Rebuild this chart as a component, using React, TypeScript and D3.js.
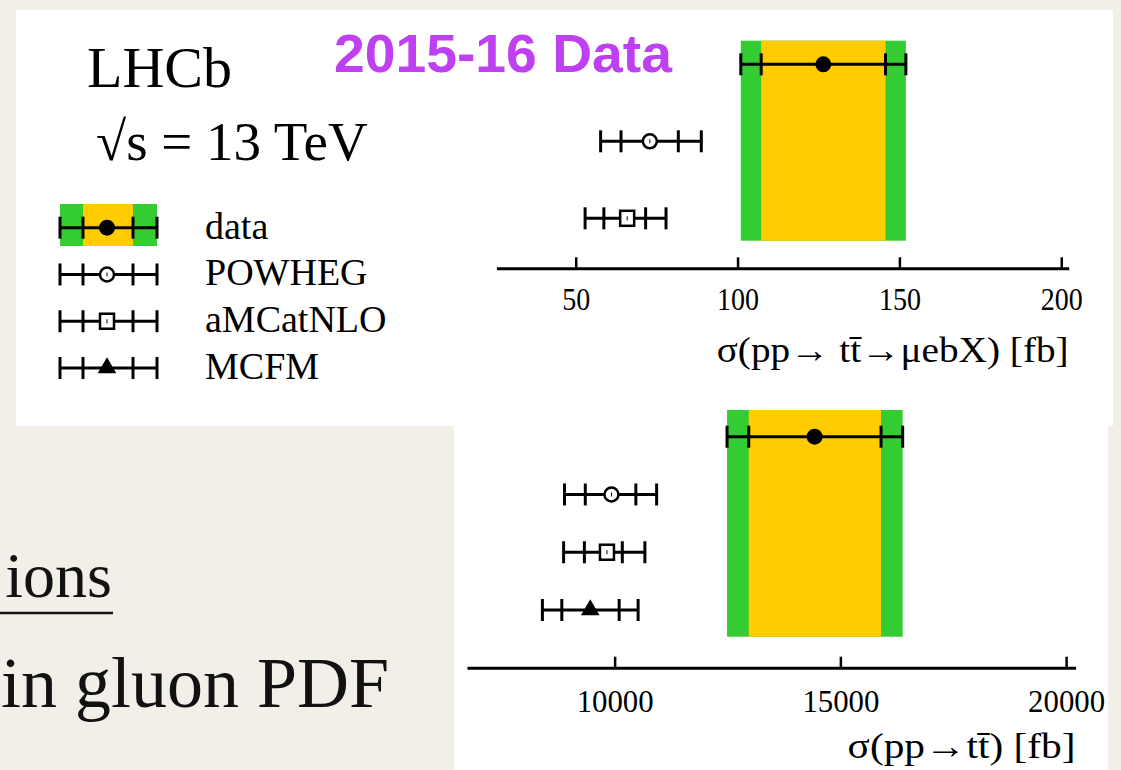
import React, { useRef, useEffect } from "react";
import * as d3 from "d3";

const W = 1121;
const H = 770;
const SERIF = "'Liberation Serif', 'Times New Roman', serif";
const SANS = "'Liberation Sans', Arial, sans-serif";
const GREEN = "#33cc33";
const YELLOW = "#ffcc00";

// series / marker types (same order in both panels)
const series = ["data", "POWHEG", "aMCatNLO", "MCFM"];
const markers = ["dot", "circle", "square", "triangle"];

// sigma(pp -> ttbar -> mu e b X) [fb]
const muebSeries = ["data", "POWHEG", "aMCatNLO"];
const muebCentral = [126.5, 72.9, 65.9];
const muebInnerLo = [107.3, 64.0, 58.7];
const muebInnerHi = [145.7, 81.7, 71.6];
const muebOuterLo = [101.0, 57.7, 52.9];
const muebOuterHi = [152.0, 88.8, 77.9];
const muebTicks = [50, 100, 150, 200];

// sigma(pp -> ttbar) [fb]
const ttSeries = ["data", "POWHEG", "aMCatNLO", "MCFM"];
const ttCentral = [14430, 9930, 9830, 9460];
const ttInnerLo = [12970, 9350, 9330, 8830];
const ttInnerHi = [15900, 10470, 10170, 10100];
const ttOuterLo = [12490, 8890, 8870, 8400];
const ttOuterHi = [16380, 10930, 10670, 10520];
const ttTicks = [10000, 15000, 20000];

function drawMarker(g, type, x, y) {
  if (type === "dot") {
    g.append("circle").attr("cx", x).attr("cy", y).attr("r", 8).attr("fill", "#000");
  } else if (type === "circle") {
    g.append("circle").attr("cx", x).attr("cy", y).attr("r", 7)
      .attr("fill", "#fff").attr("stroke", "#000").attr("stroke-width", 2.5);
    g.append("line").attr("x1", x).attr("x2", x).attr("y1", y - 2).attr("y2", y + 2)
      .attr("stroke", "#000").attr("stroke-width", 1);
  } else if (type === "square") {
    g.append("rect").attr("x", x - 7).attr("y", y - 7.5).attr("width", 14).attr("height", 15)
      .attr("fill", "#fff").attr("stroke", "#000").attr("stroke-width", 2.5);
    g.append("line").attr("x1", x).attr("x2", x).attr("y1", y - 2).attr("y2", y + 2)
      .attr("stroke", "#000").attr("stroke-width", 1);
  } else {
    const tri = d3.symbol().type(d3.symbolTriangle).size(150);
    g.append("path").attr("d", tri()).attr("transform", `translate(${x},${y})`).attr("fill", "#000");
  }
}

// xs = [outerLo, innerLo, central, innerHi, outerHi] in pixels
function drawErrorBar(g, xs, y, marker) {
  g.append("line").attr("x1", xs[0]).attr("x2", xs[4]).attr("y1", y).attr("y2", y)
    .attr("stroke", "#000").attr("stroke-width", 3);
  [xs[0], xs[1], xs[3], xs[4]].forEach((x) => {
    g.append("line").attr("x1", x).attr("x2", x).attr("y1", y - 11).attr("y2", y + 11)
      .attr("stroke", "#000").attr("stroke-width", 3);
  });
  drawMarker(g, marker, xs[2], y);
}

const panels = [
  {
    names: muebSeries, central: muebCentral, innerLo: muebInnerLo, innerHi: muebInnerHi,
    outerLo: muebOuterLo, outerHi: muebOuterHi, ticks: muebTicks,
    domain: [25.5, 202.3], range: [496.4, 1068.7], axisY: 268.3,
    rows: [64.3, 218.3], band: [40.7, 240.7], fs: 31, digitW: 14, pad: 20,
    title: "σ(pp→ tt\u0304→μebX) [fb]", titleY: 362, titleW: 352,
  },
  {
    names: ttSeries, central: ttCentral, innerLo: ttInnerLo, innerHi: ttInnerHi,
    outerLo: ttOuterLo, outerHi: ttOuterHi, ticks: ttTicks,
    domain: [6730, 20210], range: [467, 1075.6], axisY: 667.7,
    rows: [436.7, 610], band: [410, 636.7], fs: 32, digitW: 15.4, pad: 22,
    title: "σ(pp→tt\u0304) [fb]", titleY: 758, titleW: 228,
  },
];

export default function App() {
  const svgRef = useRef(null);

  useEffect(() => {
    const svg = d3.select(svgRef.current);
    svg.selectAll("*").remove();

    // slide background
    svg.append("rect").attr("width", W).attr("height", H).attr("fill", "#f2efe9");

    // slide text behind the plots
    svg.append("text").attr("x", 112).attr("y", 597).attr("text-anchor", "end")
      .attr("font-family", SERIF).attr("font-size", 64).attr("fill", "#111").text("ions");
    svg.append("line").attr("x1", 0).attr("x2", 113).attr("y1", 613).attr("y2", 613)
      .attr("stroke", "#111").attr("stroke-width", 2.5);
    svg.append("text").attr("x", 1).attr("y", 707)
      .attr("font-family", SERIF).attr("font-size", 72).attr("fill", "#111").text("in gluon PDF");

    // white plot panels
    svg.append("rect").attr("x", 16).attr("y", 10).attr("width", 1097).attr("height", 416).attr("fill", "#fff");
    svg.append("rect").attr("x", 454).attr("y", 425).attr("width", 654).attr("height", 345).attr("fill", "#fff");

    panels.forEach((p) => {
      const g = svg.append("g");
      const x = d3.scaleLinear().domain(p.domain).range(p.range);
      const y = d3.scalePoint().domain(p.names).range(p.rows);

      // data bands: total (green) and inner (yellow)
      g.append("rect").attr("x", x(p.outerLo[0])).attr("y", p.band[0])
        .attr("width", x(p.outerHi[0]) - x(p.outerLo[0])).attr("height", p.band[1] - p.band[0])
        .attr("fill", GREEN);
      g.append("rect").attr("x", x(p.innerLo[0])).attr("y", p.band[0])
        .attr("width", x(p.innerHi[0]) - x(p.innerLo[0])).attr("height", p.band[1] - p.band[0])
        .attr("fill", YELLOW);

      p.names.forEach((name, i) => {
        const xs = [p.outerLo[i], p.innerLo[i], p.central[i], p.innerHi[i], p.outerHi[i]].map(x);
        drawErrorBar(g, xs, y(name), markers[series.indexOf(name)]);
      });

      const axis = d3.axisBottom(x).tickValues(p.ticks).tickSizeInner(-11).tickSizeOuter(0)
        .tickPadding(p.pad).tickFormat(d3.format("d"));
      const ag = g.append("g").attr("transform", `translate(0,${p.axisY})`).call(axis);
      ag.attr("font-family", SERIF);
      ag.select(".domain").attr("stroke", "#000").attr("stroke-width", 3);
      ag.selectAll(".tick line").attr("stroke", "#000").attr("stroke-width", 2.5);
      ag.selectAll(".tick text")
        .attr("font-family", SERIF).attr("font-size", p.fs).attr("fill", "#000")
        .attr("textLength", (d) => String(d).length * p.digitW)
        .attr("lengthAdjust", "spacingAndGlyphs");

      g.append("text").attr("x", p.range[1]).attr("y", p.titleY).attr("text-anchor", "end")
        .attr("font-family", SERIF).attr("font-size", 36)
        .attr("textLength", p.titleW).attr("lengthAdjust", "spacingAndGlyphs")
        .text(p.title);
    });

    // labels in top-left
    svg.append("text").attr("x", 87).attr("y", 87).attr("font-family", SERIF).attr("font-size", 58).text("LHCb");
    svg.append("text").attr("x", 96).attr("y", 160).attr("font-family", SERIF).attr("font-size", 55).text("√s = 13 TeV");
    svg.append("text").attr("x", 334).attr("y", 72).attr("font-family", SANS).attr("font-weight", "bold")
      .attr("font-size", 54).attr("fill", "#be40f0")
      .attr("textLength", 338).attr("lengthAdjust", "spacingAndGlyphs").text("2015-16 Data");

    // legend
    const legendY = d3.scalePoint().domain(series).range([227.7, 368]);
    const lx = [60, 83, 107, 133, 157];
    const lg = svg.append("g");
    lg.append("rect").attr("x", lx[0]).attr("y", 204).attr("width", lx[4] - lx[0]).attr("height", 42).attr("fill", GREEN);
    lg.append("rect").attr("x", lx[1]).attr("y", 204).attr("width", lx[3] - lx[1]).attr("height", 42).attr("fill", YELLOW);
    series.forEach((name, i) => {
      drawErrorBar(lg, lx, legendY(name), markers[i]);
      lg.append("text").attr("x", 205).attr("y", legendY(name) + 11)
        .attr("font-family", SERIF).attr("font-size", 38).text(name);
    });
  }, []);

  return (
    <svg ref={svgRef} width={W} height={H}
      style={{ position: "absolute", left: 0, top: 0, display: "block" }} />
  );
}
